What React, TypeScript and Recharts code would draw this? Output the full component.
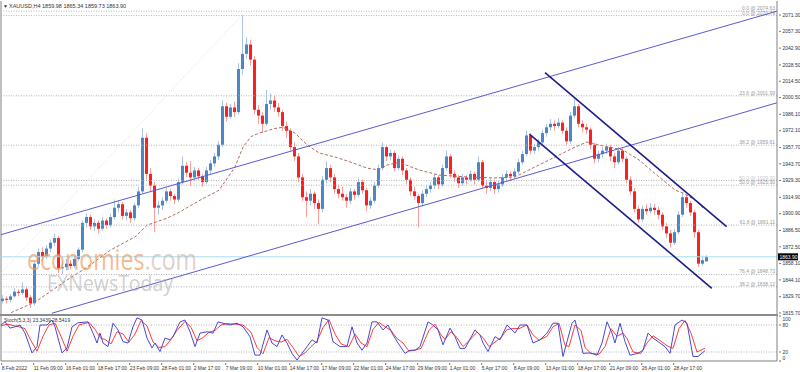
import { ComposedChart, Bar, Line, XAxis, YAxis, ReferenceLine } from "recharts";

// H4 gold candles, grouped two per slot (one slot = 4px in the reference)
const opens = [
  1826, 1828, 1827, 1830, 1834, 1833, 1836, 1829, 1824, 1858,
  1868, 1864, 1871, 1876, 1880, 1854, 1855, 1858, 1856, 1862,
  1870, 1893, 1898, 1890, 1893, 1888, 1895, 1891, 1898, 1906,
  1909, 1899, 1902, 1897, 1908, 1920, 1966, 1935, 1925, 1906,
  1908, 1912, 1920, 1916, 1913, 1928, 1942, 1936, 1932, 1938,
  1933, 1928, 1938, 1944, 1950, 1960, 1993, 1984, 1992, 1988,
  2025, 2038, 2046, 2033, 1990, 1985, 1978, 1995, 1998, 1992,
  1988, 1976, 1972, 1958, 1950, 1932, 1915, 1912, 1918, 1910,
  1905, 1930, 1940, 1932, 1922, 1918, 1915, 1912, 1920, 1917,
  1928, 1921, 1908, 1912, 1925, 1940, 1958, 1950, 1953, 1940,
  1948, 1938, 1930, 1920, 1916, 1910, 1918, 1922, 1925, 1932,
  1926, 1940, 1950, 1935, 1932, 1927, 1932, 1930, 1935, 1930,
  1945, 1925, 1923, 1928, 1922, 1926, 1932, 1935, 1933, 1937,
  1945, 1952, 1968, 1955, 1958, 1962, 1970, 1975, 1978, 1976,
  1979, 1972, 1963, 1985, 1993, 1978, 1975, 1973, 1960, 1948,
  1952, 1955, 1958, 1950, 1945, 1955, 1948, 1930, 1920, 1905,
  1896, 1905, 1903, 1906, 1904, 1900, 1890, 1884, 1876, 1885,
  1900, 1915, 1910, 1902, 1885, 1858, 1859.98,
];
const highs = [
  1831, 1830, 1832, 1837, 1836, 1842, 1838, 1831, 1860, 1871,
  1872, 1874, 1879, 1884, 1882, 1860, 1862, 1861, 1865, 1872,
  1895, 1901, 1900, 1896, 1895, 1898, 1897, 1901, 1913, 1912,
  1911, 1905, 1904, 1910, 1924, 1974, 1970, 1940, 1928, 1912,
  1915, 1923, 1922, 1918, 1931, 1950, 1945, 1946, 1941, 1940,
  1935, 1941, 1947, 1953, 1963, 1998, 1996, 1995, 1997, 2030,
  2071, 2052, 2050, 2036, 1994, 1988, 2007, 2004, 2002, 1996,
  1990, 1980, 1974, 1962, 1953, 1935, 1920, 1922, 1920, 1913,
  1933, 1946, 1943, 1935, 1926, 1924, 1918, 1923, 1922, 1932,
  1930, 1923, 1915, 1928, 1943, 1962, 1960, 1956, 1955, 1951,
  1950, 1940, 1932, 1924, 1918, 1921, 1925, 1928, 1935, 1934,
  1943, 1955, 1952, 1938, 1934, 1935, 1934, 1938, 1937, 1950,
  1947, 1929, 1931, 1930, 1929, 1935, 1938, 1937, 1940, 1948,
  1955, 1972, 1970, 1961, 1965, 1973, 1978, 1982, 1981, 1983,
  1981, 1975, 1988, 1999, 1995, 1981, 1978, 1975, 1962, 1955,
  1958, 1961, 1960, 1953, 1958, 1957, 1950, 1933, 1923, 1908,
  1908, 1909, 1910, 1909, 1907, 1902, 1893, 1887, 1888, 1903,
  1919, 1917, 1912, 1904, 1887, 1865, 1865.34,
];
const lows = [
  1824, 1824, 1825, 1829, 1830, 1831, 1826, 1820, 1822, 1855,
  1860, 1862, 1868, 1873, 1850, 1849, 1852, 1853, 1854, 1860,
  1868, 1889, 1887, 1886, 1884, 1886, 1888, 1889, 1896, 1902,
  1896, 1895, 1893, 1895, 1906, 1918, 1930, 1920, 1885, 1900,
  1904, 1910, 1912, 1909, 1911, 1926, 1932, 1925, 1929, 1930,
  1924, 1926, 1935, 1941, 1947, 1958, 1980, 1982, 1984, 1986,
  2020, 2034, 2028, 1986, 1978, 1970, 1976, 1990, 1988, 1984,
  1972, 1966, 1955, 1946, 1928, 1912, 1898, 1908, 1905, 1892,
  1902, 1927, 1928, 1918, 1914, 1912, 1906, 1909, 1913, 1915,
  1918, 1903, 1905, 1910, 1923, 1938, 1946, 1947, 1937, 1938,
  1934, 1926, 1916, 1913, 1889, 1907, 1915, 1919, 1922, 1922,
  1924, 1938, 1932, 1928, 1923, 1925, 1926, 1928, 1926, 1928,
  1922, 1918, 1920, 1918, 1919, 1924, 1929, 1929, 1931, 1935,
  1943, 1950, 1952, 1952, 1955, 1960, 1967, 1972, 1972, 1974,
  1969, 1960, 1961, 1983, 1975, 1971, 1969, 1956, 1944, 1945,
  1949, 1952, 1946, 1940, 1943, 1945, 1927, 1917, 1902, 1893,
  1894, 1900, 1901, 1900, 1896, 1887, 1880, 1872, 1874, 1883,
  1898, 1906, 1899, 1880, 1855, 1856, 1859.73,
];
const closes = [
  1828, 1827, 1830, 1834, 1833, 1836, 1829, 1824, 1858, 1868,
  1864, 1871, 1876, 1880, 1854, 1855, 1858, 1856, 1862, 1870,
  1893, 1898, 1890, 1893, 1888, 1895, 1891, 1898, 1906, 1909,
  1899, 1902, 1897, 1908, 1920, 1966, 1935, 1925, 1906, 1908,
  1912, 1920, 1916, 1913, 1928, 1942, 1936, 1932, 1938, 1933,
  1928, 1938, 1944, 1950, 1960, 1993, 1984, 1992, 1988, 2025,
  2038, 2046, 2033, 1990, 1985, 1978, 1995, 1998, 1992, 1988,
  1976, 1972, 1958, 1950, 1932, 1915, 1912, 1918, 1910, 1905,
  1930, 1940, 1932, 1922, 1918, 1915, 1912, 1920, 1917, 1928,
  1921, 1908, 1912, 1925, 1940, 1958, 1950, 1953, 1940, 1948,
  1938, 1930, 1920, 1916, 1910, 1918, 1922, 1925, 1932, 1926,
  1940, 1950, 1935, 1932, 1927, 1932, 1930, 1935, 1930, 1945,
  1925, 1923, 1928, 1922, 1926, 1932, 1935, 1933, 1937, 1945,
  1952, 1968, 1955, 1958, 1962, 1970, 1975, 1978, 1976, 1979,
  1972, 1963, 1985, 1993, 1978, 1975, 1973, 1960, 1948, 1952,
  1955, 1958, 1950, 1945, 1955, 1948, 1930, 1920, 1905, 1896,
  1905, 1903, 1906, 1904, 1900, 1890, 1884, 1876, 1885, 1900,
  1915, 1910, 1902, 1885, 1858, 1861, 1863.9,
];

// dashed moving average, read at a few slots
const maSlots = [
  2, 8, 16, 21, 27, 33, 36, 41, 44, 49, 54, 58, 60, 62, 64, 68, 70, 73, 76, 79, 83, 87,
  91, 94, 96, 99, 104, 109, 116, 123, 128, 133, 138, 143, 146, 149, 155, 159, 164, 168,
  170, 173, 175,
];
const maValues = [
  1816, 1825, 1844, 1855, 1870, 1881, 1891, 1897, 1902, 1912, 1921, 1941, 1958, 1967,
  1970, 1974, 1975, 1970, 1960, 1953, 1949.5, 1945, 1940, 1938.4, 1942.6, 1945, 1938.4,
  1934, 1932.4, 1931.5, 1932.4, 1941, 1949.5, 1958, 1962.4, 1959.8, 1955.5, 1947,
  1932.4, 1921.2, 1918.6, 1912.6, 1905.8,
];

// Stoch(5,3,3): [slot, value]
const stochMain: [number, number][] = [
  [-0.5, 80], [0.5, 87], [1.75, 73], [3, 76], [4.25, 80], [5.5, 62], [7.25, 18], [8.5, 32],
  [9.25, 80], [11, 80], [12.25, 91], [13, 76], [14.75, 18], [16, 29], [17.25, 76], [18.75, 85],
  [21.25, 87], [22.5, 62], [23.5, 40], [24.25, 62], [25, 40], [26.25, 32], [27.5, 84],
  [28.75, 69], [30, 43], [31.25, 40], [32.5, 76], [33.5, 96], [34.75, 91], [36, 51],
  [37.25, 29], [38, 40], [39.25, 21], [40.5, 51], [41.75, 47], [42.5, 54], [44.25, 87],
  [45.5, 91], [46.75, 65], [48, 32], [49.25, 62], [51, 65], [52.5, 62], [53.75, 87], [55, 84],
  [56.75, 80], [58.5, 84], [60, 76], [61.75, 54], [63, 13], [64.25, 13], [66, 69], [67.25, 40],
  [68.5, 32], [69.75, 58], [71, 40], [72.25, 17], [73.5, 2], [74.75, 17], [76, 32],
  [77.25, 47], [78.5, 40], [79.75, 96], [81.25, 91], [82.5, 43], [84.25, 32], [86, 32],
  [87.25, 76], [88.5, 40], [89.75, 24], [91, 40], [92.25, 87], [93.5, 87], [95, 69],
  [96.25, 80], [97.5, 58], [98.75, 40], [100.5, 17], [101.75, 24], [103, 24], [104.25, 32],
  [106.25, 87], [107.5, 80], [108.75, 69], [110, 36], [111.75, 73], [113, 54], [114.25, 28],
  [115.5, 28], [118, 69], [119.25, 58], [120, 40], [121.25, 21], [123, 54], [124.25, 47],
  [126, 80], [127.25, 69], [128, 62], [129.25, 80], [131, 80], [132.5, 40], [134.25, 47],
  [136, 62], [137.5, 84], [138.75, 84], [140, 10], [141, 43], [142.25, 84], [143, 91],
  [144.25, 47], [145, 17], [146.75, 18], [148.5, 13], [149.75, 40], [151, 87], [152.25, 62],
  [153, 40], [154.25, 84], [155.5, 43], [156.75, 13], [158.75, 17], [160, 24], [161.25, 62],
  [162.5, 51], [164.25, 40], [165.5, 32], [166.75, 17], [168, 80], [169.75, 91], [171, 84],
  [172.5, 10], [173.75, 10], [175.5, 23],
];
const stochSignal: [number, number][] = [
  [-0.5, 78], [1, 82], [2.5, 79], [4, 76], [5.5, 72], [7, 45], [8.5, 22], [10, 55], [11.5, 80],
  [13, 84], [14.5, 55], [16, 22], [17.5, 55], [19, 80], [21.5, 86], [23, 70], [24.5, 50],
  [25.5, 48], [27, 38], [28.5, 65], [30, 60], [31.5, 42], [33, 60], [34.5, 90], [36, 78],
  [37.5, 42], [39, 30], [40.5, 32], [42, 48], [43.5, 68], [45.5, 88], [47, 75], [48.5, 45],
  [50, 52], [51.5, 64], [53, 68], [54.5, 80], [56, 83], [58, 82], [60, 80], [62, 64],
  [63.5, 30], [65, 16], [66.5, 52], [68, 45], [69.5, 42], [71, 48], [72.5, 30], [74, 10],
  [75.5, 18], [77, 32], [78.5, 44], [80, 74], [81.5, 92], [83, 60], [84.5, 38], [86.5, 32],
  [88, 60], [89.5, 40], [91, 32], [92.5, 70], [94, 86], [95.5, 76], [97, 68], [98.5, 50],
  [100, 40], [101.5, 22], [103, 24], [104.5, 28], [106.5, 68], [108, 82], [109.5, 58],
  [110.5, 48], [112, 65], [113.5, 52], [115, 32], [116.5, 45], [118.5, 64], [120, 52],
  [121.5, 32], [123, 42], [124.5, 52], [126, 70], [127.5, 72], [129, 72], [131, 80],
  [132.5, 58], [134, 46], [136, 55], [137.5, 76], [139, 84], [140.5, 35], [141.5, 32],
  [143, 80], [144.5, 68], [145.5, 30], [147, 17], [149, 15], [150.5, 32], [152, 72],
  [153.5, 55], [155, 62], [156, 50], [157.5, 20], [159.5, 17], [161, 40], [162.5, 56],
  [164.5, 44], [166, 34], [167.5, 28], [169, 72], [170.5, 90], [172, 62], [173.5, 20],
  [175.5, 28.5],
];

const priceTicks = [
  1815.7, 1829.7, 1844.1, 1858.1, 1872.5, 1886.5, 1900.9, 1914.9, 1929.3, 1943.7,
  1957.7, 1972.1, 1986.1, 2000.5, 2014.5, 2028.5, 2042.9, 2057.3, 2071.3,
];
const timeLabels = [
  "8 Feb 2022", "11 Feb 09:00", "16 Feb 01:00", "18 Feb 17:00", "23 Feb 09:00",
  "28 Feb 01:00", "2 Mar 17:00", "7 Mar 09:00", "10 Mar 01:00", "14 Mar 17:00",
  "17 Mar 09:00", "22 Mar 01:00", "24 Mar 17:00", "29 Mar 09:00", "1 Apr 01:00",
  "5 Apr 17:00", "8 Apr 09:00", "13 Apr 01:00", "18 Apr 17:00", "21 Apr 09:00",
  "26 Apr 01:00", "28 Apr 17:00",
];
const fibLevels = [2074.63, 2070.79, 2001.99, 1959.61, 1929.3, 1925.3, 1891.11, 1848.73, 1838.12];
const fibLabels = [
  "0.0 @ 2074.63", "0.0 @ 2070.79", "23.6 @ 2001.99", "38.2 @ 1959.61", "50.0 @ 1929.30",
  "50.0 @ 1925.30", "61.8 @ 1891.11", "76.4 @ 1848.73", "38.2 @ 1838.12",
];
const lastPrice = 1863.9;

// drawn trend lines: [slot, price] end points
const channelUpper: [number, number][] = [[-0.5, 1882.9], [193.5, 2074.6]];
const channelLower: [number, number][] = [[12.2, 1815.5], [193.5, 1996.0]];
const downUpper: [number, number][] = [[135.5, 2021.8], [180.9, 1889.7]];
const downLower: [number, number][] = [[131.6, 1969.2], [177.2, 1836.9]];
const fibTrend: [number, number][] = [[-0.5, 1850], [59.25, 2069.7]];

const X_DOMAIN: [number, number] = [-0.5, 193.5];
const FONT = "'Liberation Sans', Arial, sans-serif";

const rows = closes.map((c, i) => ({
  i,
  o: opens[i],
  h: highs[i],
  l: lows[i],
  c,
  range: [lows[i], highs[i]] as [number, number],
  ma: undefined as number | undefined,
}));
maSlots.forEach((s, j) => {
  rows[s].ma = maValues[j];
});

const stochRows = [
  ...stochMain.map(([x, k]) => ({ x, k } as { x: number; k?: number; d?: number })),
  ...stochSignal.map(([x, d]) => ({ x, d } as { x: number; k?: number; d?: number })),
].sort((a, b) => a.x - b.x);

const timeTicks = timeLabels.map((_, k) => k * 8 - 0.33);

function Candle(props: any) {
  const { x, y, width, height, payload } = props;
  if (!payload || payload.o == null || !height) return null;
  const top = Math.min(y, y + height);
  const span = Math.abs(height);
  const { o, h, l, c } = payload;
  const pix = (p: number) => top + ((h - p) / (h - l)) * span;
  const up = c >= o;
  const cx = x + width / 2;
  const bTop = pix(Math.max(o, c));
  const bBot = pix(Math.min(o, c));
  return (
    <g>
      <line x1={cx} x2={cx} y1={top} y2={top + span} stroke={up ? "#a9c5e4" : "#ff9d9d"} strokeWidth={1} />
      <rect x={x} y={bTop} width={width} height={Math.max(1, bBot - bTop)} fill={up ? "#4d86c4" : "#ff1e1e"} />
    </g>
  );
}

function PriceTick(props: any) {
  const { x, y, payload } = props;
  return (
    <g>
      <line x1={x} x2={x + 2} y1={y} y2={y} stroke="#777" />
      <text x={x + 3.5} y={y + 1.8} fontSize={5} fontFamily={FONT} fill="#333">
        {Number(payload.value).toFixed(2)}
      </text>
    </g>
  );
}

function StochTick(props: any) {
  const { x, y, payload } = props;
  const v = payload.value;
  const dy = v === 100 ? 3 : v === 0 ? -3 : 0;
  return (
    <g>
      <line x1={x} x2={x + 2} y1={y} y2={y} stroke="#777" />
      <text x={x + 3.5} y={y + 1.8 + dy} fontSize={5} fontFamily={FONT} fill="#333">
        {v}
      </text>
    </g>
  );
}

function TimeTick(props: any) {
  const { x, y, payload } = props;
  const k = timeTicks.indexOf(payload.value);
  return (
    <g>
      <line x1={x} x2={x} y1={y} y2={y + 2} stroke="#777" />
      <text x={x} y={y + 7} fontSize={5} fontFamily={FONT} fill="#333" textAnchor="start">
        {timeLabels[k] ?? ""}
      </text>
    </g>
  );
}

function FibLabel(props: any) {
  const vb = props.viewBox || {};
  return (
    <text
      x={vb.x + vb.width - 2}
      y={vb.y - 1}
      fontSize={5}
      fontFamily={FONT}
      fill={props.faint ? "#c8c8c8" : "#9a9a9a"}
      textAnchor="end"
    >
      {props.text}
    </text>
  );
}

function PriceBox(props: any) {
  const vb = props.viewBox || {};
  const bx = vb.x + vb.width + 1;
  return (
    <g>
      <rect x={bx} y={vb.y - 3.5} width={20} height={7} fill="#000" />
      <text x={bx + 1.5} y={vb.y + 1.8} fontSize={5} fontFamily={FONT} fill="#fff">
        {lastPrice.toFixed(2)}
      </text>
    </g>
  );
}

export default function App() {
  return (
    <div style={{ position: "absolute", left: 0, top: 0, width: 800, height: 372, background: "#fff" }}>
      <div style={{ position: "absolute", left: 0, top: 0 }}>
        <ComposedChart width={800} height={315} data={rows} margin={{ top: 1, right: 0, bottom: 1, left: 1 }}>
          <XAxis type="number" dataKey="i" domain={X_DOMAIN} hide allowDataOverflow />
          <YAxis
            orientation="right"
            domain={[1814.85, 2083.31]}
            ticks={priceTicks}
            width={23}
            allowDataOverflow
            axisLine={{ stroke: "#808080" }}
            tickLine={false}
            tickSize={0}
            tick={<PriceTick />}
            interval={0}
          />
          <ReferenceLine x={-0.5} stroke="#808080" />
          {fibLevels.map((lv, j) => (
            <ReferenceLine
              key={lv}
              y={lv}
              stroke="#b4b4b4"
              strokeDasharray="1 1.5"
              label={<FibLabel text={fibLabels[j]} faint={j === 4} />}
            />
          ))}
          <ReferenceLine segment={fibTrend.map(([x, y]) => ({ x, y }))} stroke="#dcdcdc" strokeDasharray="1 2" />
          <ReferenceLine y={lastPrice} stroke="#a6dff0" label={<PriceBox />} />
          <Bar dataKey="range" barSize={3} shape={<Candle />} isAnimationActive={false} />
          <Line
            dataKey="ma"
            stroke="#b46a5e"
            strokeWidth={1}
            strokeDasharray="3 2"
            dot={false}
            connectNulls
            isAnimationActive={false}
          />
          <ReferenceLine segment={channelUpper.map(([x, y]) => ({ x, y }))} stroke="#5a5ad2" />
          <ReferenceLine segment={channelLower.map(([x, y]) => ({ x, y }))} stroke="#5a5ad2" />
          <ReferenceLine segment={downUpper.map(([x, y]) => ({ x, y }))} stroke="#1c1c8c" strokeWidth={1.6} />
          <ReferenceLine segment={downLower.map(([x, y]) => ({ x, y }))} stroke="#1c1c8c" strokeWidth={1.6} />
        </ComposedChart>
      </div>
      <div style={{ position: "absolute", left: 0, top: 314, width: 778, height: 2, background: "#8c8c8c" }} />
      <div style={{ position: "absolute", left: 0, top: 315 }}>
        <ComposedChart width={800} height={56} data={stochRows} margin={{ top: 1, right: 0, bottom: 0, left: 1 }}>
          <XAxis
            type="number"
            dataKey="x"
            domain={X_DOMAIN}
            allowDataOverflow
            ticks={timeTicks}
            interval={0}
            height={10}
            tickLine={false}
            tickSize={0}
            axisLine={{ stroke: "#808080" }}
            tick={<TimeTick />}
          />
          <YAxis
            orientation="right"
            domain={[0, 100]}
            ticks={[0, 20, 80, 100]}
            width={23}
            interval={0}
            axisLine={{ stroke: "#808080" }}
            tickLine={false}
            tickSize={0}
            tick={<StochTick />}
          />
          <ReferenceLine x={-0.5} stroke="#808080" />
          <ReferenceLine y={80} stroke="#b4b4b4" strokeDasharray="1 1.5" />
          <ReferenceLine y={20} stroke="#b4b4b4" strokeDasharray="1 1.5" />
          <Line dataKey="d" stroke="#ff3c3c" strokeWidth={1} dot={false} connectNulls isAnimationActive={false} />
          <Line dataKey="k" stroke="#4848d4" strokeWidth={1} dot={false} connectNulls isAnimationActive={false} />
        </ComposedChart>
      </div>
      <svg
        width={800}
        height={372}
        style={{ position: "absolute", left: 0, top: 0, pointerEvents: "none" }}
      >
        <text x={3} y={7.5} fontSize={5} fill="#333" fontFamily={FONT}>▼</text>
        <text x={9} y={7.5} fontSize={5.5} fill="#333" fontFamily={FONT}>
          XAUUSD,H4  1859.98 1865.34 1859.73 1863.90
        </text>
        <text x={4} y={322} fontSize={5} fill="#333" fontFamily={FONT}>
          Stoch(5,3,3) 23.3439 28.5419
        </text>
        <text
          x={27}
          y={270}
          fontSize={30}
          fontFamily="'Open Sans', Lato, sans-serif"
          textLength={170}
          lengthAdjust="spacingAndGlyphs"
          fill="#f39a5c"
          fillOpacity={0.7}
        >
          economies<tspan fill="#c9b2a6" fillOpacity={0.6}>.com</tspan>
        </text>
        <text
          x={47}
          y={291}
          fontSize={22}
          fontFamily="'Open Sans', Lato, sans-serif"
          fill="#a8a8a8"
          fillOpacity={0.55}
          textLength={126}
          lengthAdjust="spacingAndGlyphs"
        >
          FXNewsToday
        </text>
      </svg>
    </div>
  );
}
